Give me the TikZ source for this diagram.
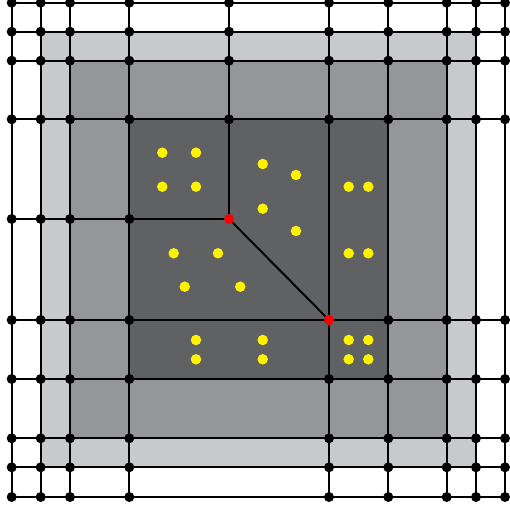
\documentclass[tikz,border=0pt]{standalone}
\usetikzlibrary{positioning}
\definecolor{paleband}{HTML}{C8C9CB}
\definecolor{midband}{HTML}{959698}
\definecolor{coreband}{HTML}{606163}

\begin{document}
\begin{tikzpicture}[
        x=0.02cm, y=-0.02cm,
        gridline/.style={line width=1.1pt, black},
        knot/.style={circle, fill=black, inner sep=0pt, minimum size=0.2cm},
        hub/.style={circle, fill=red, inner sep=0pt, minimum size=0.2cm},
        sample/.style={circle, fill=yellow, inner sep=0pt, minimum size=0.21cm}
    ]
        \useasboundingbox (0,0) rectangle (510,509);

        \foreach \x [count=\i from 0] in {11.7,40.7,70,129.3,229,329,388.3,446.7,476,505}
            \foreach \y [count=\j from 0] in {2.7,31.7,60.7,119.3,219,320,379,438.3,467.3,497}
                \coordinate (g-\i-\j) at (\x,\y);

        \fill[paleband] (g-1-1) rectangle (g-8-8);
        \fill[midband] (g-2-2) rectangle (g-7-7);
        \fill[coreband] (g-3-3) rectangle (g-6-6);

        \foreach \k in {0,1,2,3,5,6,7,8,9} {
            \draw[gridline] (g-\k-0) -- (g-\k-9);
            \draw[gridline] (g-0-\k) -- (g-9-\k);
        }
        \draw[gridline] (g-4-0) -- (g-4-4) -- (g-0-4);
        \draw[gridline] (g-4-4) -- (g-5-5);

        \foreach \i in {0,1,2,3,5,6,7,8,9}
            \foreach \j in {0,1,2,3,5,6,7,8,9} {
                \ifnum\i\j=55 \else \node[knot] (k-\i-\j) at (g-\i-\j) {}; \fi
            }
        \foreach \k in {0,1,2,3} {
            \node[knot] (k-4-\k) at (g-4-\k) {};
            \node[knot] (k-\k-4) at (g-\k-4) {};
        }
        \node[hub] (h-a) at (g-4-4) {};
        \node[hub] (h-b) at (g-5-5) {};

        \foreach \p [count=\n] in {
            (162.3,152.7), (196,152.7), (162.3,186.7), (196,186.7),
            (262.7,164), (296,175), (262.7,208.7), (296,231),
            (348.7,186.7), (368.3,186.7), (348.7,253.3), (368.3,253.3),
            (173.7,253.3), (218,253.3), (184.7,286.7), (240.3,286.7),
            (196,340), (262.7,340), (196,359.3), (262.7,359.3),
            (348.7,340), (368.3,340), (348.7,359.3), (368.3,359.3)}
            \node[sample] (s-\n) at \p {};
\end{tikzpicture}
\end{document}
